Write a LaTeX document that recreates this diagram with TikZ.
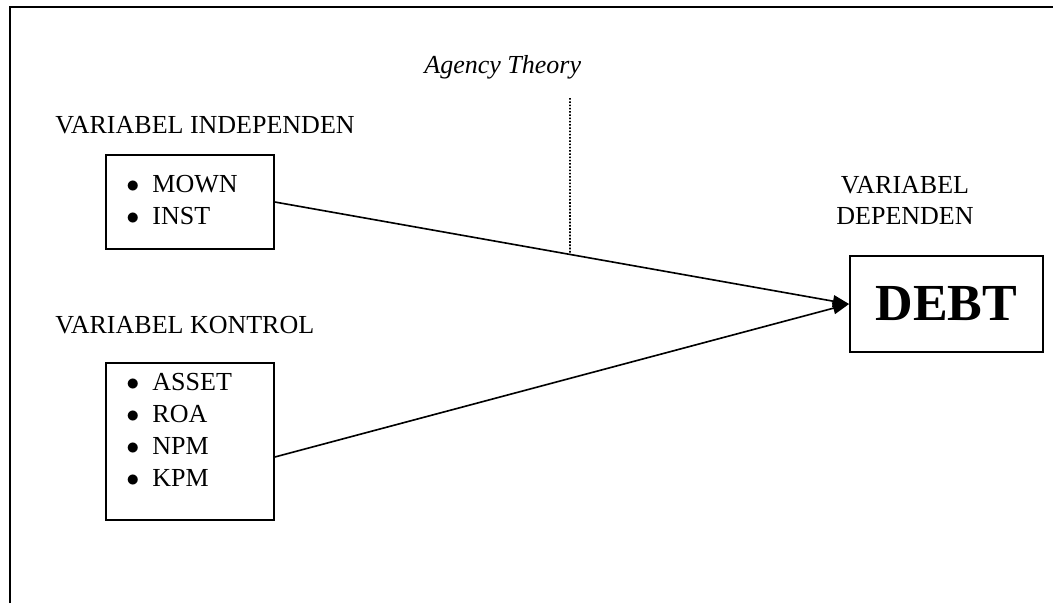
\documentclass[tikz,border=0pt]{standalone}
\usepackage{fontspec}
\setmainfont{Liberation Serif}
\usepackage{xcolor}
\usepackage{tikz}
\usetikzlibrary{arrows.meta}

\begin{document}
\begin{tikzpicture}[x=0.4615pt, y=-0.4615pt, font=\fontsize{12}{14}\selectfont,
    varbox/.style={draw, line width=0.8pt, minimum width=77.5pt, inner sep=0pt},
    vartitle/.style={anchor=base west, inner sep=0pt},
    item/.style={anchor=base west, inner sep=0pt},
    link/.style={-{Triangle[length=7.5pt, width=5.5pt]}, line width=0.75pt}]
    \useasboundingbox (0,0) rectangle (1053,603);
    \draw[line width=1pt] (10,603) -- (10,7) -- (1053,7);
    \node[vartitle] (indep) at (55,133) {VARIABEL INDEPENDEN};
    \node[vartitle] (kontrol) at (55,333) {VARIABEL KONTROL};
    \node[vartitle] (agency) at (424,73) {\textit{Agency Theory}};
    \node[align=center, anchor=base, inner sep=0pt] (dependen) at (905,224) {VARIABEL\\DEPENDEN};
    \node[varbox, minimum height=43.4pt] (indepbox) at (190,202) {};
    \node[varbox, minimum height=72.5pt] (kontrolbox) at (190,441.5) {};
    \node[item] (mown) at (126,192) {\makebox[12pt][l]{$\bullet$}MOWN};
    \node[item] (inst) at (126,224) {\makebox[12pt][l]{$\bullet$}INST};
    \node[item] (asset) at (126,390) {\makebox[12pt][l]{$\bullet$}ASSET};
    \node[item] (roa) at (126,422) {\makebox[12pt][l]{$\bullet$}ROA};
    \node[item] (npm) at (126,454) {\makebox[12pt][l]{$\bullet$}NPM};
    \node[item] (kpm) at (126,486) {\makebox[12pt][l]{$\bullet$}KPM};
    \node[draw, line width=0.8pt, minimum width=89.1pt, minimum height=44.3pt,
        font=\fontsize{24}{28}\selectfont\bfseries] (debt) at (946.5,304) {DEBT};
    \coordinate (kontrolout) at (kontrolbox.east |- 0,457);
    \draw[link] (indepbox.east) -- (debt.west);
    \draw[link] (kontrolout) -- (debt.west);
    \path (indepbox.east) -- (debt.west) coordinate[pos=0.514] (hit);
    \coordinate (theory) at (570,98);
    \draw[line width=0.8pt, dash pattern=on 0.8pt off 0.7pt] (theory) -- (hit);
\end{tikzpicture}
\end{document}
